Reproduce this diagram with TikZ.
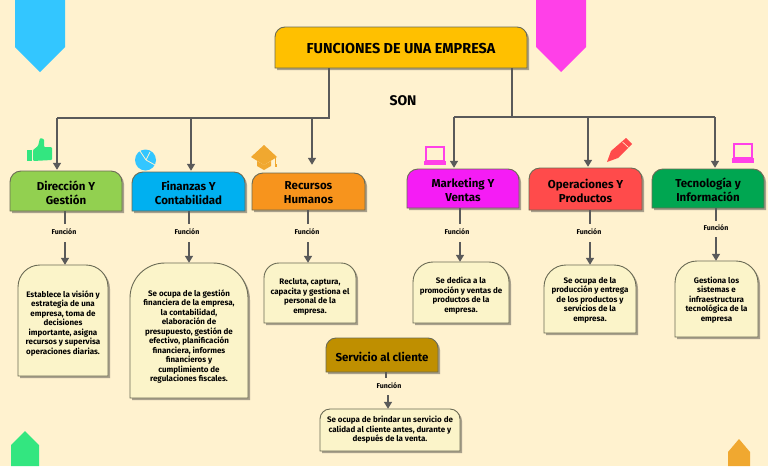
\documentclass[tikz,border=0pt]{standalone}
\usepackage{fontspec}
\setmainfont{Fira Sans}
\usetikzlibrary{arrows.meta,calc}
\definecolor{bgc}{HTML}{FFF2CF}
\definecolor{linec}{HTML}{5A5A5A}
\definecolor{edgec}{HTML}{6B6B55}
\definecolor{shadowc}{HTML}{A8A08C}
\definecolor{bodyc}{HTML}{FBF4C9}
\definecolor{cTitle}{HTML}{FFC000}
\definecolor{cDir}{HTML}{92D050}
\definecolor{cFin}{HTML}{00B0F0}
\definecolor{cRec}{HTML}{F7941D}
\definecolor{cMar}{HTML}{F51CF5}
\definecolor{cOpe}{HTML}{FF4B4B}
\definecolor{cTec}{HTML}{00A651}
\definecolor{cSer}{HTML}{BF8F00}
\definecolor{tagB}{HTML}{33C6FF}
\definecolor{tagP}{HTML}{FF40E8}
\definecolor{tagG}{HTML}{33E680}
\definecolor{tagO}{HTML}{F0A830}
\tikzset{
  x=1pt,y=-1pt,
  conn/.style={draw=linec,line width=1.5pt},
  arrowc/.style={conn,-{Triangle[length=7pt,width=8pt]}},
  func/.style={font=\fontsize{7}{8}\selectfont\bfseries,text=black,inner sep=1pt},
  headtxt/.style={font=\fontsize{11.5}{14}\selectfont\bfseries,text=black,align=center,inner sep=0pt,yshift=-1.5pt},
  bodytxt/.style={font=\fontsize{8}{9.5}\selectfont\bfseries,text=black,align=center,inner sep=0pt},
}
% name, x0,y0,x1,y1, radius, fill, text-node options, text
\newcommand{\panelbox}[9]{%
  \fill[shadowc,shift={(2pt,-2pt)}] (#2,#5) [rounded corners=#6pt] -- (#2,#3) -- (#4,#3) [sharp corners] -- (#4,#5) -- cycle;
  \draw[draw=edgec,line width=0.9pt,fill=#7] (#2,#5) [rounded corners=#6pt] -- (#2,#3) -- (#4,#3) [sharp corners] -- (#4,#5) -- cycle;
  \node[inner sep=0pt,minimum width={(#4-#2)*1pt},minimum height={(#5-#3)*1pt}] (#1) at ({(#2+#4)/2},{(#3+#5)/2}) {};
  \node[#8] (#1t) at (#1.center) {#9};
}
\begin{document}
\begin{tikzpicture}
\useasboundingbox (0,0) rectangle (768,466);
\fill[bgc] (0,0) rectangle (768,466);
% decorative tags
\fill[tagB] (15,0) -- (65,0) -- (65,47) -- (40,72) -- (15,47) -- cycle;
\fill[tagP] (536,0) -- (586,0) -- (586,47) -- (561,72) -- (536,47) -- cycle;
\fill[tagG] (11,466) -- (11,445) -- (25,431) -- (39,445) -- (39,466) -- cycle;
\fill[tagO] (728,466) -- (728,452) -- (739,439) -- (750,452) -- (750,466) -- cycle;
% boxes
\panelbox{title}{275}{27}{527}{68}{10}{cTitle}{font=\fontsize{14.4}{16}\selectfont\bfseries,inner sep=0pt,yshift=-1pt}{FUNCIONES DE UNA EMPRESA}
\panelbox{dir}{10}{171}{122}{211}{11}{cDir}{headtxt}{Dirección Y\\Gestión}
\panelbox{fin}{132}{172}{245}{211}{11}{cFin}{headtxt}{Finanzas Y\\Contabilidad}
\panelbox{rec}{252}{173}{365}{210}{11}{cRec}{headtxt}{Recursos\\Humanos}
\panelbox{mar}{407}{169}{519}{208}{11}{cMar}{headtxt}{Marketing Y\\Ventas}
\panelbox{ope}{529}{168}{642}{210}{11}{cOpe}{headtxt}{Operaciones Y\\Productos}
\panelbox{tec}{652}{169}{764}{208}{11}{cTec}{headtxt}{Tecnología y\\Información}
\panelbox{ser}{326}{338}{438}{372}{10}{cSer}{headtxt}{Servicio al cliente}
\panelbox{bdir}{18}{265}{108}{376}{22}{bodyc}{bodytxt,yshift=-3pt}{Establece la visión y\\estrategia de una\\empresa, toma de\\decisiones\\importante, asigna\\recursos y supervisa\\operaciones diarias.}
\panelbox{bfin}{130}{263}{248}{398}{35}{bodyc}{bodytxt,yshift=-6pt}{Se ocupa de la gestión\\financiera de la empresa,\\la contabilidad,\\elaboración de\\presupuesto, gestión de\\efectivo, planificación\\financiera, informes\\financieros y\\cumplimiento de\\regulaciones fiscales.}
\panelbox{brec}{264}{263}{356}{323}{15}{bodyc}{bodytxt,yshift=-4pt}{Recluta, captura,\\capacita y gestiona el\\personal de la\\empresa.}
\panelbox{bmar}{413}{262}{509}{323}{20}{bodyc}{bodytxt,yshift=-3pt}{Se dedica a la\\promoción y ventas de\\productos de la\\empresa.}
\panelbox{bope}{544}{265}{636}{333}{22}{bodyc}{bodytxt,yshift=-1pt}{Se ocupa de la\\producción y entrega\\de los productos y\\servicios de la\\empresa.}
\panelbox{btec}{675}{261}{758}{337}{22}{bodyc}{bodytxt,yshift=-1pt}{Gestiona los\\sistemas e\\infraestructura\\tecnológica de la\\empresa}
\panelbox{bser}{320}{409}{460}{451}{10}{bodyc}{bodytxt}{Se ocupa de brindar un servicio de\\calidad al cliente antes, durante y\\después de la venta.}
% labels
\node[font=\fontsize{14}{16}\selectfont\bfseries,inner sep=0pt] (son) at (403,101) {SON};
\node[func] (f1) at (64,232) {Función};
\node[func] (f2) at (187,232) {Función};
\node[func] (f3) at (307,232) {Función};
\node[func] (f4) at (457,232) {Función};
\node[func] (f5) at (589,232) {Función};
\node[func] (f6) at (716,228) {Función};
\node[func] (f7) at (389,386) {Función};
% trunk junctions
\coordinate (jl) at (329,118);
\coordinate (jr) at (512,117);
\coordinate (a1) at (57,118);
\coordinate (a2) at (191,118);
\coordinate (a3) at (312,118);
\coordinate (a4) at (454,117);
\coordinate (a5) at (588,117);
\coordinate (a6) at (715,117);
\draw[conn,line width=2.2pt] (jl |- title.south) -- (jl) -- (a2);
\draw[conn,line width=1.3pt] (a2) -- (a1);
\draw[conn,line width=1.6pt] (jr |- title.south) -- (jr) -- (a5);
\draw[conn,line width=1.3pt] (a4) -- (jr);
\draw[conn,line width=1.3pt] (a5) -- (a6);
\draw[arrowc,shorten >=1pt] (a1) -- (a1 |- dir.north);
\draw[arrowc,shorten >=1pt] (a2) -- (a2 |- fin.north);
\draw[arrowc,shorten >=8pt] (a3) -- (a3 |- rec.north);
\draw[arrowc,shorten >=1pt] (a4) -- (a4 |- mar.north);
\draw[arrowc,shorten >=1pt] (a5) -- (a5 |- ope.north);
\draw[arrowc,shorten >=1pt] (a6) -- (a6 |- tec.north);
% function connectors
\coordinate (l1) at (65,224); \coordinate (m1) at (65,242);
\coordinate (l2) at (189,224); \coordinate (m2) at (189,242);
\coordinate (l3) at (308,224); \coordinate (m3) at (308,242);
\coordinate (l4) at (460,224); \coordinate (m4) at (460,242);
\coordinate (l5) at (590,224); \coordinate (m5) at (590,242);
\coordinate (l6) at (716,221); \coordinate (m6) at (716,237);
\coordinate (l7) at (386,378); \coordinate (m7) at (388,395);
\draw[conn] (l1 |- dir.south) -- (l1);
\draw[arrowc] (m1) -- (m1 |- bdir.north);
\draw[conn] (l2 |- fin.south) -- (l2);
\draw[arrowc] (m2) -- (m2 |- bfin.north);
\draw[conn] (l3 |- rec.south) -- (l3);
\draw[arrowc] (m3) -- (m3 |- brec.north);
\draw[conn] (l4 |- mar.south) -- (l4);
\draw[arrowc] (m4) -- (m4 |- bmar.north);
\draw[conn] (l5 |- ope.south) -- (l5);
\draw[arrowc] (m5) -- (m5 |- bope.north);
\draw[conn] (l6 |- tec.south) -- (l6);
\draw[arrowc] (m6) -- (m6 |- btec.north);
\draw[conn] (l7 |- ser.south) -- (l7);
\draw[arrowc] (m7) -- (m7 |- bser.north);
% icons: thumbs up
\fill[tagG] (27,150) rectangle (32,161);
\fill[tagG,rounded corners=1pt] (33,150) -- (38,146) -- (40,138) -- (44,139) -- (44,147) -- (52,147) -- (52,160) -- (33,161) -- cycle;
% pie
\fill[tagB] (145.5,160) circle[radius=10.5];
\draw[bgc,line width=0.8pt] (146,160) -- (140,151);
\draw[bgc,line width=0.8pt] (146,160) -- (155,165);
\draw[bgc,line width=0.8pt] (146,160) -- (150,152);
% graduation cap
\fill[tagO] (251,157) -- (264,145) -- (277,157) -- (264,165) -- cycle;
\fill[tagO] (257,161) -- (264,165) -- (271,161) -- (271,166) -- (264,170) -- (257,166) -- cycle;
\fill[tagO] (275,158) rectangle (276,166);
\fill[tagO] (274.5,164) rectangle (277,167);
% laptops
\draw[tagP,line width=1.6pt,fill=bgc] (426,147) rectangle (444,161);
\fill[tagP] (424,161) -- (446,161) -- (446,165) -- (424,165) -- cycle;
\draw[tagP,line width=1.6pt,fill=bgc] (734,144) rectangle (752,158);
\fill[tagP] (732,158) -- (754,158) -- (754,163) -- (732,163) -- cycle;
% pencil
\fill[cOpe] (607,162) -- (611,151) -- (626,138) -- (632,144) -- (618,158) -- cycle;
\draw[bgc,line width=0.6pt] (622.5,142) -- (628.5,147.5);
\end{tikzpicture}
\end{document}
